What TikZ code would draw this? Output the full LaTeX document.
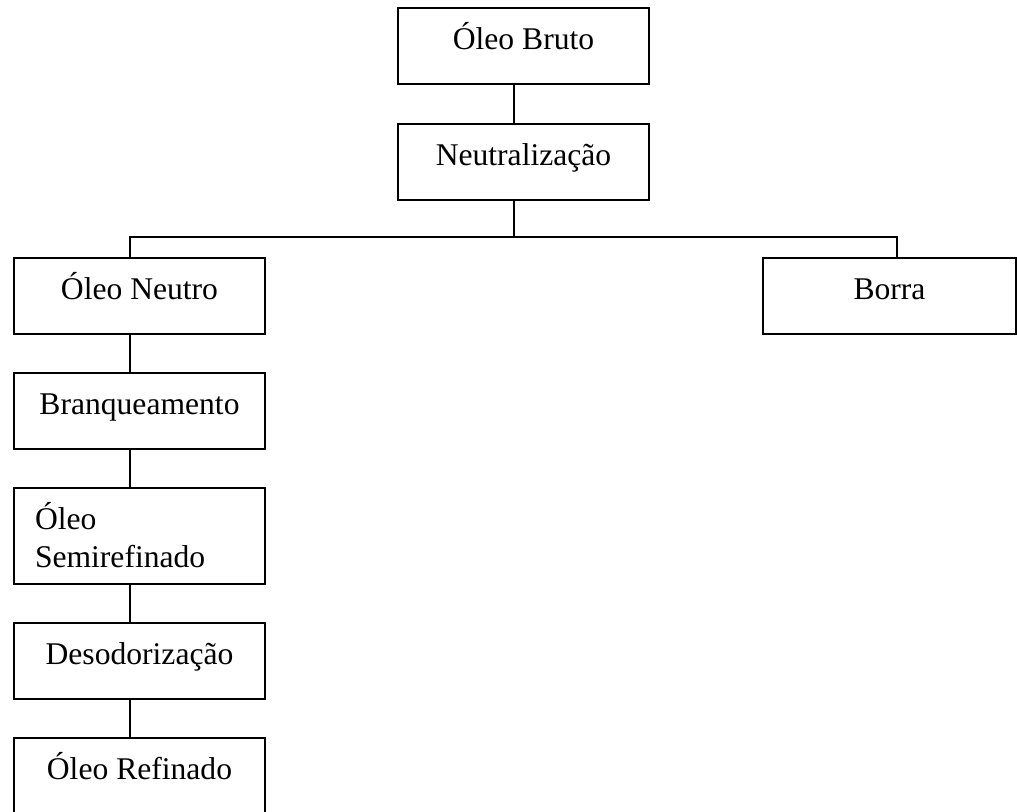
\documentclass[tikz,border=0pt]{standalone}
\usepackage{fontspec}
\setmainfont{Liberation Serif}
\begin{document}
\begin{tikzpicture}[x=1pt,y=-1pt,
  box/.style={draw, line width=2pt, anchor=north, minimum width=251pt,
    inner xsep=0pt, inner ysep=0pt, text height=41pt, text depth=35pt,
    font=\fontsize{31.6}{38}\selectfont},
  conn/.style={line width=2pt}]
\useasboundingbox (0,0) rectangle (1017,811);
\clip (-5,-5) rectangle (1017,811);
\fill[white] (0,0) rectangle (1017,811);
% boxes
\node[box] (bruto)  at (523.5,7)   {Óleo Bruto};
\node[box] (neutra) at (523.5,123) {Neutralização};
\node[box] (neutro) at (139.5,257) {Óleo Neutro};
\node[box, minimum width=253pt] (borra) at (889.5,257) {Borra};
\node[box] (branq)  at (139.5,372) {Branqueamento};
\node[box, align=left, text width=209pt, inner xsep=21pt, text depth=55pt] (semi) at (139.5,487) {Óleo\\Semirefinado};
\node[box] (desod)  at (139.5,622) {Desodorização};
\node[box, text depth=60pt] (refin)  at (139.5,737) {Óleo Refinado};
% connectors
\coordinate (fork) at (514,237);
\draw[conn] ([xshift=-9.5pt]bruto.south) -- ([xshift=-9.5pt]neutra.north);
\draw[conn] ([xshift=-9.5pt]neutra.south) -- (fork);
\draw[conn] ([xshift=-9.5pt]neutro.north) |- (fork) -| ([xshift=7.5pt]borra.north);
\draw[conn] ([xshift=-9.5pt]neutro.south) -- ([xshift=-9.5pt]branq.north);
\draw[conn] ([xshift=-9.5pt]branq.south) -- ([xshift=-9.5pt]semi.north);
\draw[conn] ([xshift=-9.5pt]semi.south) -- ([xshift=-9.5pt]desod.north);
\draw[conn] ([xshift=-9.5pt]desod.south) -- ([xshift=-9.5pt]refin.north);
\end{tikzpicture}
\end{document}
